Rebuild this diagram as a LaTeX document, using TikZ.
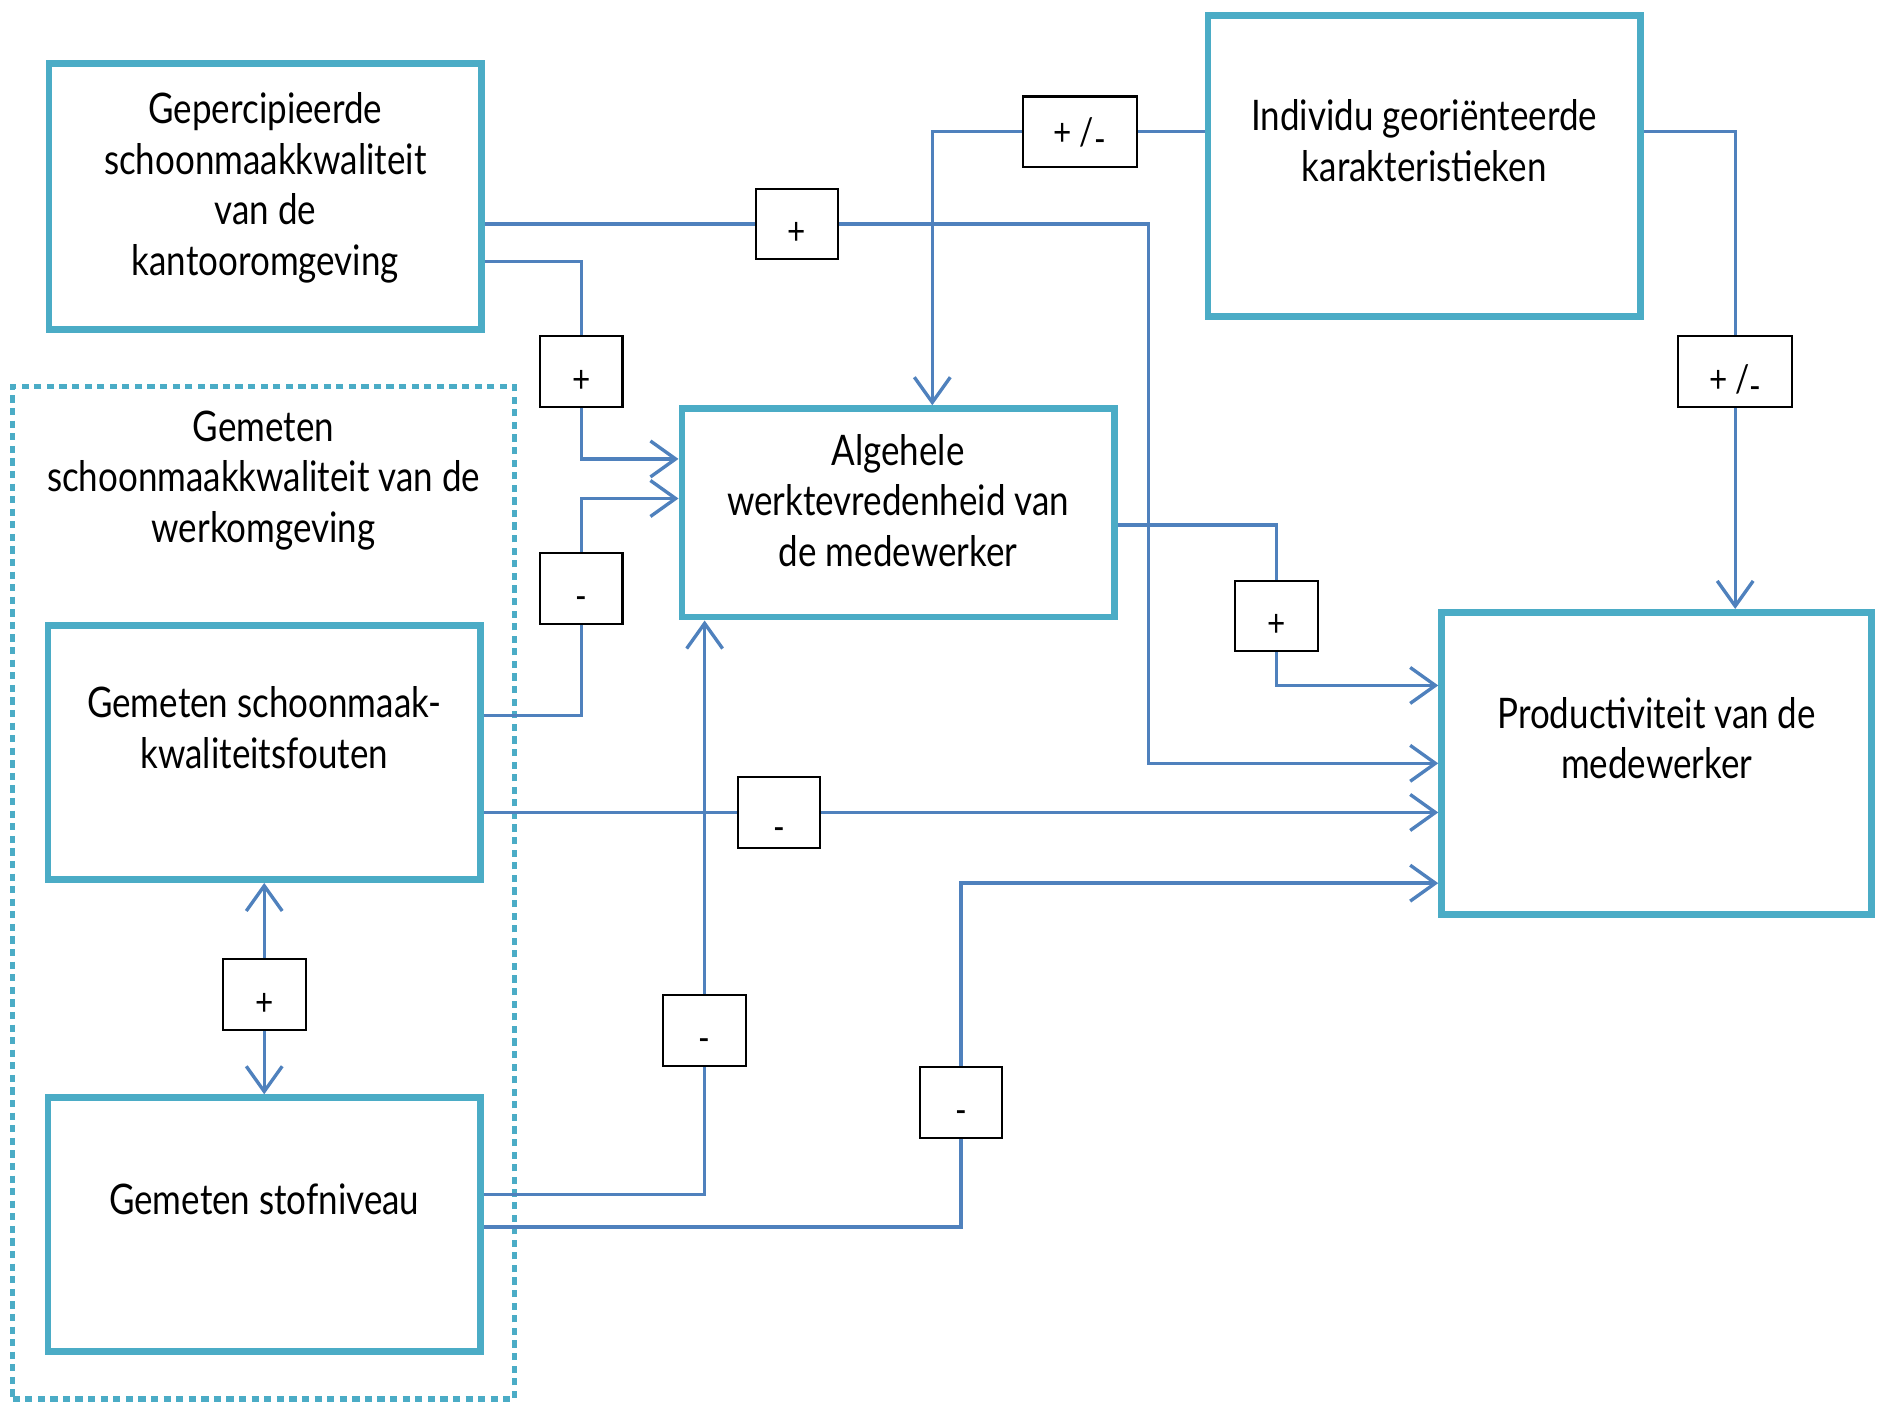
\documentclass[tikz,border=0pt]{standalone}
\usepackage{fontspec}
\setmainfont{Lato}[FakeStretch=0.83]
\usetikzlibrary{arrows, arrows.meta, positioning, calc}
\definecolor{boxteal}{RGB}{75,172,198}
\definecolor{linkblue}{RGB}{79,129,189}

\begin{document}
\begin{tikzpicture}[x=0.1mm, y=-0.1mm,
  >={Straight Barb[length=2.1mm,width=3mm]},
  factor/.style={draw=boxteal, line width=0.56mm, fill=white, align=center, font=\fontsize{10}{12}\selectfont},
  signbox/.style={draw=black, line width=0.5pt, fill=white, minimum width=6.9mm, minimum height=5.9mm, inner sep=0pt, text height=9.8pt, text depth=0pt, font=\fontsize{9}{10}\selectfont},
  link/.style={draw=linkblue, line width=0.8pt}]
\useasboundingbox (0,0) rectangle (1568,1175);

\node[draw=boxteal, line width=0.45mm, dash pattern=on 0.6mm off 0.45mm, minimum width=41.9mm, minimum height=84.5mm] (measured) at (220,745) {};
\node[align=center, font=\fontsize{10}{12}\selectfont] (measuredlbl) at (220,401) {Gemeten\\schoonmaakkwaliteit van de\\werkomgeving};

\node[factor, minimum width=36.1mm, minimum height=22.2mm] (gep) at (221.5,164) {Gepercipieerde\\schoonmaakkwaliteit\\van de\\kantooromgeving\\[-6pt]\mbox{}};
\node[factor, minimum width=36.1mm, minimum height=25.1mm] (indiv) at (1188.5,138.5) {Individu georiënteerde\\karakteristieken\\\mbox{}};
\node[factor, minimum width=36.1mm, minimum height=17.4mm] (alg) at (749.5,428) {Algehele\\werktevredenheid van\\de medewerker\\[-6pt]\mbox{}};
\node[factor, minimum width=36.1mm, minimum height=21.2mm] (fouten) at (220.5,628) {Gemeten schoonmaak-\\kwaliteitsfouten\\\mbox{}};
\node[factor, minimum width=36.1mm, minimum height=21.2mm] (stof) at (220.5,1022) {Gemeten stofniveau\\\mbox{}};
\node[factor, minimum width=35.9mm, minimum height=25.2mm] (prod) at (1382.5,637) {Productiviteit van de\\medewerker\\\mbox{}};

\node[signbox] (s1) at (665,187) {+};
\node[signbox, minimum width=9.5mm, text height=6.3pt] (s2) at (901,110) {+ /\raisebox{-0.4ex}{-}};
\node[signbox] (s3) at (485,310) {+};
\node[signbox] (s4) at (485,491) {-};
\node[signbox] (s5) at (1065,514) {+};
\node[signbox, minimum width=9.5mm] (s6) at (1448,310) {+ /\raisebox{-0.4ex}{-}};
\node[signbox, text height=13.2pt] (s7) at (650,678) {-};
\node[signbox] (s8) at (220.5,830) {+};
\node[signbox] (s9) at (588,860) {-};
\node[signbox] (s10) at (802,920) {-};

%connections
\draw[link] ([shift={(0,23)}]gep.east) -- (s1);
\draw[link,->] (s1) -| ([shift={(-242,0)}]prod.west) -- (prod.west);
\draw[link] ([shift={(0,54)}]gep.east) -| (s3);
\draw[link,->] (s3) |- ([shift={(0,-45)}]alg.west);
\draw[link] ([shift={(0,-31)}]fouten.east) -| (s4);
\draw[link,->] (s4) |- ([shift={(0,-12)}]alg.west);
\draw[link] ([shift={(0,-28.5)}]indiv.west) -- (s2);
\draw[link,->] (s2) -| ([shift={(28.5,0)}]alg.north);
\draw[link] ([shift={(0,-28.5)}]indiv.east) -| (s6);
\draw[link,->] (s6) -- (s6 |- prod.north);
\draw[link] ([shift={(0,10)}]alg.east) -| (s5);
\draw[link,->] (s5) |- ([shift={(0,-65)}]prod.west);
\draw[link] ([shift={(0,50)}]fouten.east) -- (s7);
\draw[link,->] (s7) -- (s7 -| prod.west);
\draw[link,->] (s8) -- (fouten);
\draw[link,->] (s8) -- (stof);
\draw[link] ([shift={(0,-25)}]stof.east) -| (s9);
\draw[link,->] (s9) -- (s9 |- alg.south);
\draw[link] ([shift={(0,2)}]stof.east) -| (s10);
\draw[link,->] (s10) |- ([shift={(0,100)}]prod.west);
\end{tikzpicture}
\end{document}
